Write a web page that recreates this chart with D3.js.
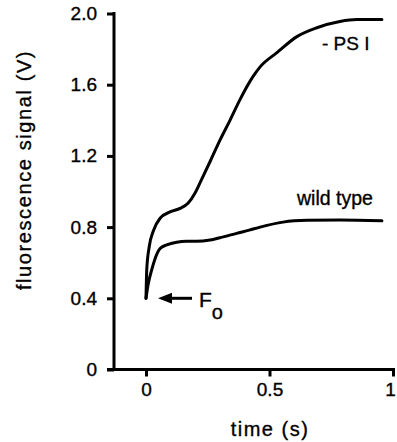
<!DOCTYPE html>
<html>
<head>
<meta charset="utf-8">
<script src="https://cdn.jsdelivr.net/npm/d3@7"></script>
<style>
  body { margin: 0; background: #fff; }
  svg { display: block; font-family: "Liberation Sans", Arial, Helvetica, sans-serif; }
  svg text { fill: #000; stroke: #000; stroke-width: 0.35; }
  .axis path, .axis line { stroke: #000; stroke-width: 3; }
  .axis text { font-size: 19px; }
  .trace { fill: none; stroke: #000; stroke-width: 3; stroke-linejoin: round; stroke-linecap: round; }
</style>
</head>
<body>
<div id="chart"></div>
<script>
// values (time in s, signal in V)
const psiTime   = [0, 0.003, 0.013, 0.03, 0.057, 0.097, 0.138, 0.171, 0.198, 0.219, 0.26, 0.30, 0.34, 0.38, 0.433, 0.462, 0.53, 0.611, 0.692, 0.785, 0.854, 0.955];
const psiSignal = [0.40, 0.56, 0.69, 0.78, 0.85, 0.885, 0.905, 0.935, 0.99, 1.05, 1.17, 1.29, 1.40, 1.515, 1.645, 1.70, 1.78, 1.87, 1.92, 1.955, 1.966, 1.966];

const wtTime   = [0, 0.009, 0.023, 0.036, 0.057, 0.084, 0.124, 0.165, 0.205, 0.259, 0.313, 0.367, 0.418, 0.462, 0.555, 0.652, 0.785, 0.955];
const wtSignal = [0.40, 0.48, 0.56, 0.62, 0.68, 0.70, 0.715, 0.72, 0.72, 0.727, 0.745, 0.765, 0.783, 0.80, 0.828, 0.838, 0.84, 0.835];

const xTicks = [0, 0.5, 1];
const xTickLabels = ["0", "0.5", "1"];
const yTicks = [0, 0.4, 0.8, 1.2, 1.6, 2.0];
const yTickLabels = ["0", "0.4", "0.8", "1.2", "1.6", "2.0"];

const fo = 0.40; // F0 level marked by the arrow

const width = 397, height = 442;

const x = d3.scaleLinear().domain([0, 1]).range([146, 393]);
const y = d3.scaleLinear().domain([0, 2]).range([369.5, 13.5]);

const svg = d3.select("#chart").append("svg")
  .attr("width", width)
  .attr("height", height);

// x axis, drawn from the y axis' zero tick
const xAxis = svg.append("g")
  .attr("class", "axis")
  .attr("transform", `translate(0,${y(0)})`)
  .call(d3.axisBottom(x).tickValues(xTicks).tickFormat((d, i) => xTickLabels[i]).tickSize(7).tickPadding(6).tickSizeOuter(0));
xAxis.select(".domain").attr("d", `M107,0H395`);
// last label sits at the page edge, keep it inside
xAxis.selectAll(".tick text").filter(d => d === 1).attr("dx", -3);

// y axis
const yAxis = svg.append("g")
  .attr("class", "axis")
  .attr("transform", "translate(114,0)")
  .call(d3.axisLeft(y).tickValues(yTicks).tickFormat((d, i) => yTickLabels[i]).tickSize(7).tickPadding(10).tickSizeOuter(0));
yAxis.select(".domain").attr("d", `M0,${y(2) - 1.5}V${y(0)}`);

const line = d3.line().curve(d3.curveMonotoneX);

svg.append("path")
  .attr("class", "trace")
  .attr("d", line(psiTime.map((t, i) => [x(t), y(psiSignal[i])])));

svg.append("path")
  .attr("class", "trace")
  .attr("d", line(wtTime.map((t, i) => [x(t), y(wtSignal[i])])));

// curve labels
svg.append("text")
  .attr("x", 322).attr("y", 50)
  .attr("font-size", 19)
  .text("- PS I");

svg.append("text")
  .attr("x", 297).attr("y", 205)
  .attr("font-size", 19.5)
  .text("wild type");

// F0 arrow
const ax = x(0) + 12, ay = y(fo);
svg.append("path")
  .attr("d", `M${ax},${ay}L${ax + 14},${ay - 5.5}L${ax + 14},${ay + 5.5}Z`)
  .attr("fill", "#000");
svg.append("line")
  .attr("x1", ax + 12).attr("x2", ax + 34)
  .attr("y1", ay).attr("y2", ay)
  .attr("stroke", "#000").attr("stroke-width", 3);

const foLabel = svg.append("text")
  .attr("x", ax + 41).attr("y", ay + 9)
  .attr("font-size", 21);
foLabel.append("tspan").text("F");
foLabel.append("tspan").attr("dy", 12).attr("font-size", 20).text("o");

// axis titles
svg.append("text")
  .attr("x", 270).attr("y", 436)
  .attr("text-anchor", "middle")
  .attr("font-size", 20)
  .attr("letter-spacing", 1.5)
  .text("time (s)");

svg.append("text")
  .attr("transform", "translate(31,170) rotate(-90)")
  .attr("text-anchor", "middle")
  .attr("font-size", 20)
  .attr("letter-spacing", 1.6)
  .text("fluorescence signal (V)");
</script>
</body>
</html>
